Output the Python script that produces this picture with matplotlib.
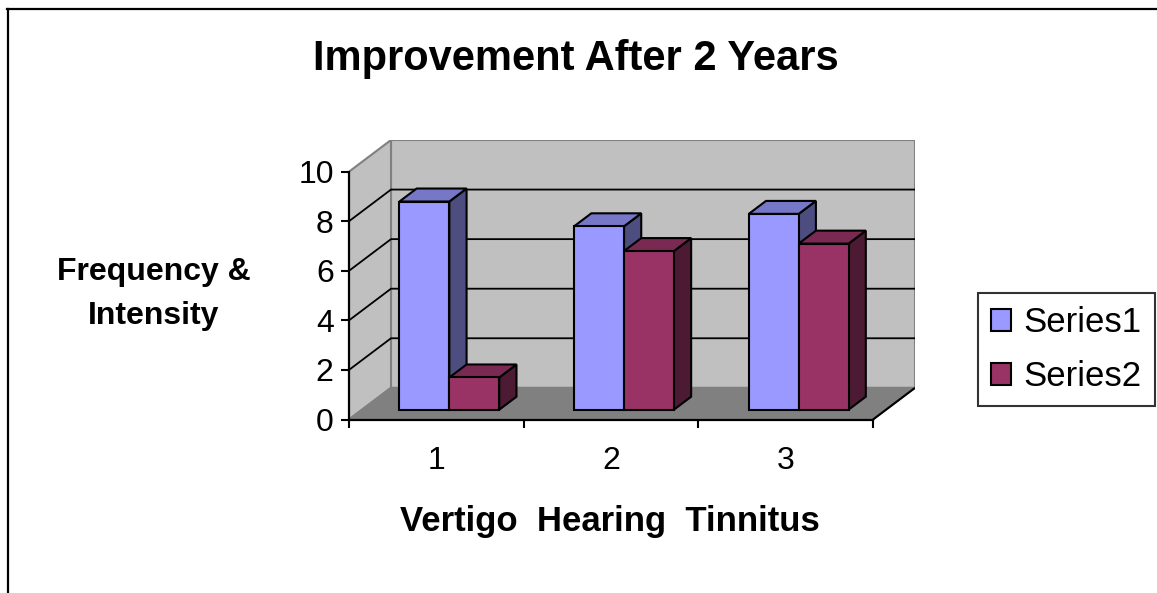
import matplotlib
matplotlib.use("Agg")
import matplotlib.pyplot as plt
from matplotlib.patches import Polygon, Patch
from matplotlib.lines import Line2D

plt.rcParams['font.family'] = ['Liberation Sans', 'DejaVu Sans']

# ---- data ----
categories = ["1", "2", "3"]
series_names = ["Series1", "Series2"]
series1 = [8.4, 7.4, 7.9]
series2 = [1.3, 6.4, 6.7]
y_ticks = [0, 2, 4, 6, 8, 10]
title = "Improvement After 2 Years"
y_label = "Frequency &\nIntensity"
x_label = "Vertigo  Hearing  Tinnitus"

# ---- styling / projection ----
front_cols = ["#9999FF", "#993366"]
top_cols = ["#7777C8", "#7A2952"]
side_cols = ["#4D4D80", "#4D1A33"]
DX, DY = 0.2405, 1.278      # oblique depth offset (data units) for full depth
Z0, Z1 = 0.31, 0.72         # bar depth range
W = 1 / 3.5                 # bar width
ymax = y_ticks[-1]
n = len(categories)
xl, xr = 0.5, n + 0.5

W_PX, H_PX = 1157, 593
fig = plt.figure(figsize=(W_PX / 100, H_PX / 100), dpi=100)
ax_l, ax_r, ax_t, ax_b = 349, 915, 140, 419.5
ax = fig.add_axes([ax_l / W_PX, 1 - ax_b / H_PX, (ax_r - ax_l) / W_PX, (ax_b - ax_t) / H_PX])
ax.set_xlim(xl, xr + DX)
ax.set_ylim(0, ymax + DY)
ax.patch.set_visible(False)


def P(x, y, z):
    return (x + z * DX, y + z * DY)


wall_c = "#C0C0C0"
edge_g = "#808080"
# back wall
ax.add_patch(Polygon([P(xl, 0, 1), P(xr, 0, 1), P(xr, ymax, 1), P(xl, ymax, 1)],
                     closed=True, fc=wall_c, ec=edge_g, lw=1.5, zorder=0))
# left wall
ax.add_patch(Polygon([P(xl, 0, 0), P(xl, 0, 1), P(xl, ymax, 1), P(xl, ymax, 0)],
                     closed=True, fc=wall_c, ec=edge_g, lw=1.5, zorder=0))
# floor
ax.add_patch(Polygon([P(xl, 0, 0), P(xr, 0, 0), P(xr, 0, 1), P(xl, 0, 1)],
                     closed=True, fc="#808080", ec=edge_g, lw=1.5, zorder=1))
# floor right edge (black)
ax.plot(*zip(P(xr, 0, 0), P(xr, 0, 1)), color="black", lw=1.5, zorder=2,
        solid_capstyle='butt')
# gridlines
for yv in y_ticks[1:-1]:
    ax.plot(*zip(P(xl, yv, 0), P(xl, yv, 1), P(xr, yv, 1)), color="black", lw=1.3, zorder=2)

# bars
def bar3d(x0, v, k):
    x1 = x0 + W
    top = [P(x0, v, Z0), P(x1, v, Z0), P(x1, v, Z1), P(x0, v, Z1)]
    side = [P(x1, 0, Z0), P(x1, 0, Z1), P(x1, v, Z1), P(x1, v, Z0)]
    front = [P(x0, 0, Z0), P(x1, 0, Z0), P(x1, v, Z0), P(x0, v, Z0)]
    for poly, c in ((side, side_cols[k]), (top, top_cols[k]), (front, front_cols[k])):
        ax.add_patch(Polygon(poly, closed=True, fc=c, ec="black", lw=1.5,
                             joinstyle='miter', zorder=3))

for i in range(n):
    c = i + 1
    bar3d(c - W, series1[i], 0)
    bar3d(c, series2[i], 1)

# axes
for s in ("top", "right"):
    ax.spines[s].set_visible(False)
ax.spines['left'].set_bounds(0, ymax)
ax.spines['bottom'].set_bounds(xl, xr)
for s in ("left", "bottom"):
    ax.spines[s].set_linewidth(1.6)
    ax.spines[s].set_zorder(5)
ax.set_yticks(y_ticks)
ax.set_yticklabels([str(t) for t in y_ticks])
ax.tick_params(axis='y', direction='out', length=6, width=1.5, labelsize=23, pad=5)
ax.set_xticks([xl + j for j in range(n + 1)])
ax.set_xticklabels([])
ax.set_xticks([i + 1 for i in range(n)], minor=True)
ax.set_xticklabels(categories, minor=True)
ax.tick_params(axis='x', which='major', direction='out', length=6, width=1.5)
ax.tick_params(axis='x', which='minor', length=0, labelsize=23, pad=19)

# texts
fig.text(576 / W_PX, 1 - 59 / H_PX, title, ha='center', va='center',
         fontsize=30, fontweight='bold')
fig.text(154 / W_PX, 1 - 294 / H_PX, y_label, ha='center', va='center',
         multialignment='center', fontsize=23, fontweight='bold', linespacing=1.6)
fig.text(610 / W_PX, 1 - 522 / H_PX, x_label, ha='center', va='center',
         fontsize=25, fontweight='bold')

# legend
handles = [Patch(fc=front_cols[k], ec="black", lw=1.5, label=series_names[k]) for k in range(2)]
leg = fig.legend(handles=handles, loc='upper left', bbox_to_anchor=(978 / W_PX, 1 - 293 / H_PX),
                 bbox_transform=fig.transFigure, borderaxespad=0, fontsize=25,
                 fancybox=False, shadow=False, frameon=True, handlelength=0.58,
                 handleheight=0.58, handletextpad=0.35, labelspacing=0.6,
                 borderpad=0.38)
leg.get_frame().set_edgecolor("black")
leg.get_frame().set_linewidth(1.5)

# outer border (left and top)
fig.add_artist(Line2D([7.5 / W_PX, 7.5 / W_PX], [0, 1 - 9 / H_PX], color="black", lw=1.6,
                      transform=fig.transFigure))
fig.add_artist(Line2D([7 / W_PX, 1], [1 - 9 / H_PX, 1 - 9 / H_PX], color="black", lw=1.6,
                      transform=fig.transFigure))

fig.savefig("out.png", dpi=100, facecolor="white")
